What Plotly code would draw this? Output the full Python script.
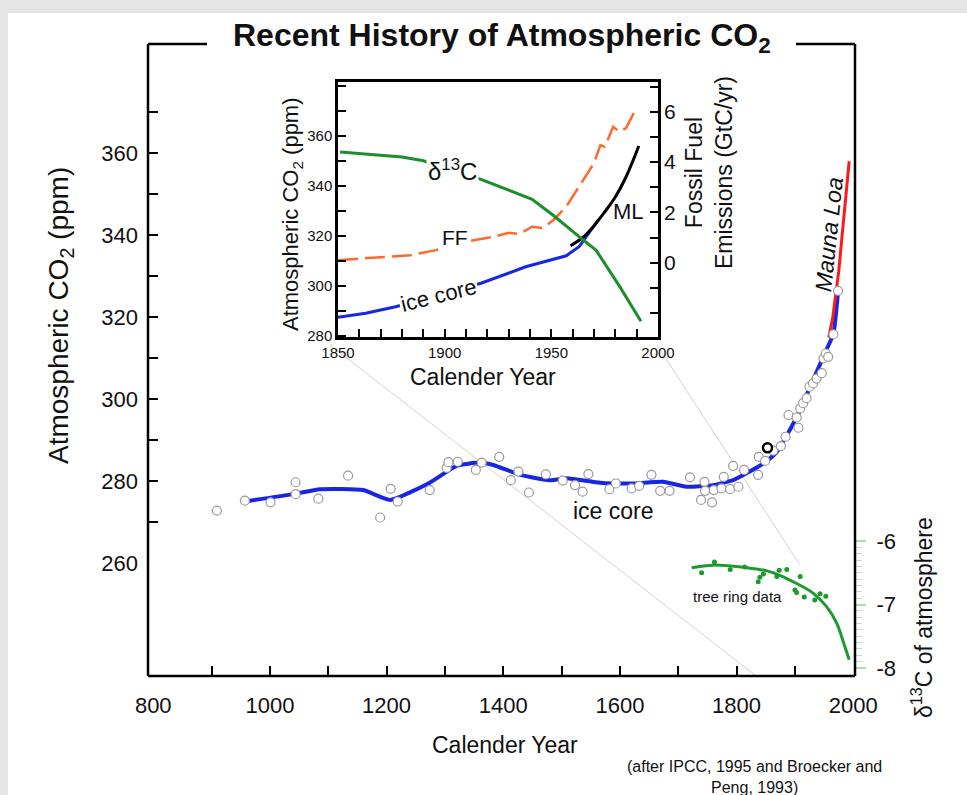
import plotly.graph_objects as go

# ---------------- data ----------------
# main chart: smoothed ice-core CO2 curve (ppm)
ice_year = [960, 1040, 1086, 1160, 1206, 1274, 1320, 1360, 1383, 1429, 1480, 1509, 1566,
            1623, 1674, 1714, 1760, 1794, 1817, 1846, 1869, 1891, 1909, 1926, 1954, 1966, 1974]
ice_co2 = [275.1, 276.8, 278.0, 277.8, 275.4, 279.6, 283.7, 284.5, 283.9, 281.5, 280.2, 280.7, 279.6,
           279.4, 279.8, 278.6, 279.0, 280.2, 281.9, 284.3, 287.1, 292.4, 297.3, 303.0, 312.0, 316.0, 326.4]

# ice-core samples (open circles)
samp_year = [909, 957, 1001, 1044, 1044, 1083, 1134, 1189, 1207, 1219, 1274, 1303, 1306, 1322, 1353,
             1363, 1393, 1413, 1426, 1444, 1473, 1502, 1523, 1536, 1546, 1582, 1593, 1620, 1633, 1654,
             1669, 1685, 1720, 1739, 1745, 1746, 1758, 1761, 1774, 1778, 1789, 1794, 1803, 1813, 1837,
             1838, 1849, 1863, 1876, 1884, 1889, 1903, 1906, 1909, 1914, 1920, 1925, 1931, 1937, 1946,
             1949, 1953, 1957, 1966, 1974]
samp_co2 = [272.8, 275.2, 274.8, 279.7, 276.8, 275.7, 281.3, 271.1, 278.1, 275.0, 277.8, 283.2, 284.6, 284.7, 282.7,
            284.5, 285.9, 280.2, 282.3, 277.2, 281.6, 280.1, 279.0, 277.4, 281.7, 278.0, 279.4, 278.2, 278.8, 281.5,
            277.6, 277.6, 280.9, 275.4, 279.8, 277.6, 274.8, 277.8, 278.2, 281.0, 278.0, 283.7, 278.6, 282.7, 281.5,
            285.9, 284.9, 287.4, 288.5, 290.8, 296.1, 295.5, 293.0, 297.7, 299.0, 300.2, 303.0, 303.8, 305.0, 306.3,
            309.9, 311.1, 310.3, 315.8, 326.4]

# highlighted sample (black circle)
hl_year = [1853]
hl_co2 = [288.1]

# Mauna Loa record (ppm)
ml_year = [1958, 1965, 1970, 1975, 1980, 1985, 1990, 1993]
ml_co2 = [315.0, 320.0, 325.5, 331.0, 338.5, 345.5, 353.5, 358.0]

# tree-ring delta13C (per mil)
tree_year = [1723, 1760, 1817, 1852, 1874, 1903, 1931, 1954, 1972, 1983, 1993]
tree_d13c = [-6.42, -6.38, -6.42, -6.47, -6.54, -6.67, -6.82, -7.03, -7.30, -7.59, -7.87]
treept_year = [1740, 1762, 1789, 1814, 1837, 1840, 1846, 1869, 1873, 1886, 1900, 1903, 1909, 1916, 1934, 1943, 1953]
treept_d13c = [-6.50, -6.33, -6.45, -6.41, -6.64, -6.57, -6.52, -6.56, -6.46, -6.45, -6.77, -6.81, -6.56,
               -6.88, -6.93, -6.83, -6.87]

# inset series
in_ice_year = [1850, 1863, 1877, 1917, 1938, 1957, 1963, 1972]
in_ice_co2 = [287.4, 289.0, 291.6, 301.0, 307.6, 312.0, 315.6, 326.3]
in_ml_year = [1959, 1965, 1970, 1975, 1980, 1985, 1991]
in_ml_co2 = [316.0, 319.5, 324.0, 329.5, 335.5, 343.5, 355.9]
in_ff_year = [1850, 1884, 1896, 1912, 1923, 1930, 1935, 1941, 1946, 1951, 1957, 1963, 1970, 1973,
              1975, 1979, 1982, 1985, 1989]
in_ff = [0.10, 0.30, 0.50, 0.87, 1.03, 1.19, 1.14, 1.43, 1.38, 1.70, 2.23, 3.02, 3.96, 4.67,
         4.60, 5.40, 5.20, 5.35, 6.00]
in_d13c_year = [1851, 1880, 1890, 1917, 1941, 1951, 1963, 1971, 1982, 1992]
in_d13c = [-6.45, -6.49, -6.52, -6.67, -6.83, -6.96, -7.13, -7.24, -7.53, -7.81]

# tick labels
main_x_labels = [800, 1000, 1200, 1400, 1600, 1800, 2000]
main_x_minor = [900, 1000, 1100, 1200, 1300, 1400, 1500, 1600, 1700, 1800, 1900]
main_y_labels = [260, 280, 300, 320, 340, 360]
main_y_ticks = [270, 280, 290, 300, 310, 320, 330, 340, 350, 360, 370]
d13c_labels = [-8, -7, -6]
inset_x_ticks = list(range(1850, 2001, 10))
inset_x_labels = [1850, 1900, 1950, 2000]
inset_y_ticks = list(range(280, 381, 10))
inset_y_labels = [280, 300, 320, 340, 360]
inset_ff_ticks = list(range(-2, 8))
inset_ff_labels = [0, 2, 4, 6]

# ---------------- layout geometry ----------------
W_FIG, H_FIG = 967, 795
L, R, T, B = 148, 855, 44, 676
PW, PH = R - L, B - T


def fx(px):
    return (px - L) / PW


def fy(py):
    return (B - py) / PH


FONT = "Liberation Sans, Arial, Helvetica, sans-serif"
BLUE = "#1626e4"
GREEN = "#1c9a2c"
RED = "#ff1a1a"
ORANGE = "#ff6a2a"

x_range = [791, 2003]
y_range = [232.44, 386.6]

fig = go.Figure()

# main traces
fig.add_trace(go.Scatter(x=ice_year, y=ice_co2, mode="lines", line=dict(color=BLUE, width=4, shape="spline", smoothing=0.5),
                         xaxis="x", yaxis="y"))
fig.add_trace(go.Scatter(x=ml_year, y=ml_co2, mode="lines", line=dict(color=RED, width=3),
                         xaxis="x", yaxis="y"))
fig.add_trace(go.Scatter(x=samp_year, y=samp_co2, mode="markers",
                         marker=dict(size=9, color="white", line=dict(color="#9a9a9a", width=1.2)),
                         xaxis="x", yaxis="y"))
fig.add_trace(go.Scatter(x=hl_year, y=hl_co2, mode="markers",
                         marker=dict(size=9, color="white", line=dict(color="black", width=2.5)),
                         xaxis="x", yaxis="y"))
fig.add_trace(go.Scatter(x=tree_year, y=tree_d13c, mode="lines", line=dict(color=GREEN, width=3, shape="spline"),
                         xaxis="x", yaxis="y3"))
fig.add_trace(go.Scatter(x=treept_year, y=treept_d13c, mode="markers", marker=dict(size=5, color=GREEN),
                         xaxis="x", yaxis="y3"))
# invisible anchors so that the label-only overlay axes are drawn
fig.add_trace(go.Scatter(x=main_x_labels, y=[y_range[0]] * len(main_x_labels), mode="markers",
                         marker=dict(opacity=0), hoverinfo="skip", xaxis="x3", yaxis="y"))
fig.add_trace(go.Scatter(x=[x_range[0]] * len(main_y_labels), y=main_y_labels, mode="markers",
                         marker=dict(opacity=0), hoverinfo="skip", xaxis="x", yaxis="y6"))

# inset traces
fig.add_trace(go.Scatter(x=in_ice_year, y=in_ice_co2, mode="lines", line=dict(color=BLUE, width=3),
                         xaxis="x2", yaxis="y2"))
fig.add_trace(go.Scatter(x=in_ml_year, y=in_ml_co2, mode="lines", line=dict(color="black", width=3, shape="spline"),
                         xaxis="x2", yaxis="y2"))
fig.add_trace(go.Scatter(x=in_ff_year, y=in_ff, mode="lines", line=dict(color=ORANGE, width=2.5, dash="20px,7px"),
                         xaxis="x2", yaxis="y4"))
fig.add_trace(go.Scatter(x=in_d13c_year, y=in_d13c, mode="lines", line=dict(color="#1a8f2a", width=3),
                         xaxis="x2", yaxis="y5"))

noline = dict(showgrid=False, zeroline=False, showline=False)

fig.update_layout(
    width=W_FIG, height=H_FIG,
    margin=dict(l=L, r=W_FIG - R, t=T, b=H_FIG - B),
    paper_bgcolor="#e5e5e5", plot_bgcolor="rgba(0,0,0,0)",
    showlegend=False,
    font=dict(family=FONT, color="#111111"),
    xaxis=dict(domain=[0, 1], anchor="y", range=x_range, tickmode="array", tickvals=main_x_minor,
               ticks="inside", ticklen=10, tickwidth=2, tickcolor="black", showticklabels=False, **noline),
    xaxis3=dict(overlaying="x", anchor="y", side="bottom", range=x_range, tickmode="array", tickvals=main_x_labels,
                ticktext=[str(v) for v in main_x_labels], ticks="", tickfont=dict(size=22),
                ticklabelstandoff=14, **noline),
    yaxis=dict(domain=[0, 1], anchor="x", range=y_range, tickmode="array", tickvals=main_y_ticks,
               ticks="inside", ticklen=10, tickwidth=2, tickcolor="black", showticklabels=False, **noline),
    yaxis6=dict(overlaying="y", anchor="x", side="left", range=y_range, tickmode="array", tickvals=main_y_labels,
                ticktext=[str(v) for v in main_y_labels], ticks="", tickfont=dict(size=22),
                ticklabelstandoff=9, **noline),
    yaxis3=dict(overlaying="y", anchor="x", side="right", range=[-8.126, 1.827], tickmode="array",
                tickvals=d13c_labels, ticktext=[str(v) for v in d13c_labels], ticks="outside", ticklen=10,
                tickwidth=1.5, tickcolor="#a8dca8", tickfont=dict(size=22), ticklabelstandoff=6,
                minor=dict(tickmode="array", tickvals=[round(-8 + 0.1 * i, 1) for i in range(1, 20) if i != 10],
                           ticks="outside", ticklen=6, tickwidth=1, tickcolor="#b8e4b8"),
                **noline),
    xaxis2=dict(domain=[fx(338), fx(658)], anchor="y2", range=[1850, 2000], tickmode="array",
                tickvals=inset_x_ticks,
                ticktext=[str(v) if v in inset_x_labels else "" for v in inset_x_ticks],
                ticks="inside", ticklen=8, tickwidth=1.5, tickcolor="black", tickfont=dict(size=15),
                showline=True, mirror=True, linewidth=2.5, linecolor="black", showgrid=False, zeroline=False),
    yaxis2=dict(domain=[fy(337), fy(82)], anchor="x2", range=[279.5, 381.5], tickmode="array",
                tickvals=inset_y_ticks,
                ticktext=[str(v) if v in inset_y_labels else "" for v in inset_y_ticks],
                ticks="inside", ticklen=8, tickwidth=1.5, tickcolor="black", tickfont=dict(size=15),
                showline=True, mirror=True, linewidth=2.5, linecolor="black", showgrid=False, zeroline=False),
    yaxis4=dict(overlaying="y2", anchor="x2", side="right", range=[-2.95, 7.18], tickmode="array",
                tickvals=inset_ff_ticks,
                ticktext=[str(v) if v in inset_ff_labels else "" for v in inset_ff_ticks],
                ticks="inside", ticklen=8, tickwidth=1.5, tickcolor="black", tickfont=dict(size=21),
                ticklabelstandoff=5, **noline),
    yaxis5=dict(overlaying="y2", anchor="x2", range=[-7.937, -5.887], visible=False),
)

shapes = []
# white panel
shapes.append(dict(type="rect", xref="paper", yref="paper", x0=fx(8), x1=fx(975), y0=fy(800), y1=fy(13),
                   fillcolor="white", line=dict(width=0), layer="below"))
# zoom guide lines
for (a, b, c, d) in [(330, 345, 755, 675), (657, 345, 800, 565)]:
    shapes.append(dict(type="line", xref="paper", yref="paper", x0=fx(a), y0=fy(b), x1=fx(c), y1=fy(d),
                       line=dict(color="#d2d2d2", width=1), layer="below"))
# main frame
frame = [(0, 0, 0, 1), (0, 0, 1, 0), (1, 0, 1, 1), (0, 1, fx(207), 1), (fx(796), 1, 1, 1)]
for (a, b, c, d) in frame:
    shapes.append(dict(type="line", xref="paper", yref="paper", x0=a, y0=b, x1=c, y1=d,
                       line=dict(color="black", width=2.5)))
fig.update_layout(shapes=shapes)

ann = []


def add(text, x, y, size, angle=0, bg=None, **kw):
    d = dict(text=text, x=fx(x), y=fy(y), xref="paper", yref="paper", showarrow=False,
             font=dict(size=size, family=FONT, color="#111111"), textangle=angle,
             xanchor="center", yanchor="middle")
    if bg:
        d["bgcolor"] = bg
    d.update(kw)
    ann.append(d)


add("<b>Recent History of Atmospheric CO<sub>2</sub></b>", 502, 38, 32)
add("Atmospheric CO<sub>2</sub> (ppm)", 60, 316, 28, angle=-90)
add("Calender Year", 505, 745, 23)
add("δ<sup>13</sup>C of atmosphere", 922, 618, 23, angle=-90)
add("(after IPCC, 1995 and Broecker and<br>Peng, 1993)", 754, 777, 16)
add("ice core", 613, 511, 23)
add("tree ring data", 737, 596, 15)
add("<i>Mauna Loa</i>", 829, 235, 23, angle=-84)
# inset labels
add("Calender Year", 483, 377, 23)
add("Atmospheric CO<sub>2</sub> (ppm)", 292, 214, 22, angle=-90)
add("Fossil Fuel<br>Emissions (GtC/yr)", 709, 173, 23, angle=-90)
add("δ<sup>13</sup>C", 452, 170, 24, bg="white")
add("FF", 455, 238, 21, bg="white")
add("ice core", 438, 295, 22, angle=-14, bg="white")
add("ML", 628, 212, 22)
fig.update_layout(annotations=ann)

fig.write_html("out.html", config={"displayModeBar": False},
               post_script="document.body.style.margin='0px';document.body.style.background='#e5e5e5';")
